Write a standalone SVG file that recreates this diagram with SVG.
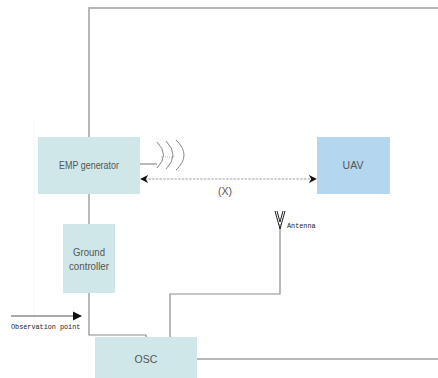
<svg xmlns="http://www.w3.org/2000/svg" width="438" height="378" viewBox="0 0 438 378">
<defs>
<style>
.box{fill:#cfe7e8;}
.uav{fill:#b4d6ee;}
.lbl{font-family:"Liberation Sans",Arial,sans-serif;font-size:10.5px;fill:#555;text-anchor:middle;}
.mono{font-family:"Liberation Mono","Courier New",monospace;font-size:6.8px;fill:#222;}
.wire{fill:none;stroke:#8c8c8c;stroke-width:1.2;}
</style>
<marker id="ah" viewBox="0 0 10 10" refX="9" refY="5" markerWidth="8" markerHeight="8" orient="auto-start-reverse" markerUnits="userSpaceOnUse">
<path d="M0,0 L10,5 L0,10 L3,5 Z" fill="#111"/>
</marker>
<marker id="ah2" viewBox="0 0 10 10" refX="9" refY="5" markerWidth="9" markerHeight="10" orient="auto" markerUnits="userSpaceOnUse">
<path d="M0,0 L10,5 L0,10 Z" fill="#111"/>
</marker>
</defs>
<rect width="438" height="378" fill="#fff"/>
<g id="connectors">
<line x1="34" y1="120" x2="34" y2="330" stroke="#f7f7f7" stroke-width="1"/>
<path class="wire" d="M438,8 H89 V137" style="stroke:#a0a0a0;stroke-width:1.5"/>
<path class="wire" d="M89,194 V224"/>
<path class="wire" d="M89,293 V335 H146 V337"/>
<path class="wire" d="M170,337 V294 H280 V224"/>
<path class="wire" d="M197,359 H438" style="stroke:#a0a0a0;stroke-width:1.5"/>
<line x1="141" y1="179" x2="316" y2="179" stroke="#a0a0a0" stroke-width="1.2" stroke-dasharray="2.5,1.2" marker-start="url(#ah)" marker-end="url(#ah)"/>
<line x1="11" y1="316" x2="81" y2="316" stroke="#555" stroke-width="1.2" marker-end="url(#ah2)"/>
<path class="wire" d="M140,164 H157"/>
<path fill="none" stroke="#888" stroke-width="1" d="M157,142 Q170,155 157,168 M166,141 Q180,155 166,169 M176,140 Q192,155 176,170"/>
<line x1="161" y1="157" x2="175" y2="157" stroke="#aaa" stroke-width="0.8" stroke-dasharray="1,1"/>
<path fill="none" stroke="#222" stroke-width="1" d="M275,211 L280,229 L285,211 M277,211 L280,222 L283,211"/>
</g>
<g id="emp">
<rect class="box" x="38" y="137" width="102" height="57"/>
<text class="lbl" x="89" y="169" textLength="60" lengthAdjust="spacingAndGlyphs">EMP generator</text>
</g>
<g id="uav">
<rect class="uav" x="317" y="137" width="73" height="57"/>
<text class="lbl" x="353" y="169">UAV</text>
</g>
<g id="ground">
<rect class="box" x="63" y="224" width="52" height="69"/>
<text class="lbl" x="89" y="256" textLength="32" lengthAdjust="spacingAndGlyphs">Ground</text>
<text class="lbl" x="89" y="270" textLength="40" lengthAdjust="spacingAndGlyphs">controller</text>
</g>
<g id="osc">
<rect class="box" x="95" y="337" width="102" height="41"/>
<text class="lbl" x="146" y="363">OSC</text>
</g>
<g id="labels">
<text class="lbl" x="225" y="195">(X)</text>
<text class="mono" x="287" y="228">Antenna</text>
<text class="mono" x="11" y="329">Observation point</text>
</g>
</svg>
